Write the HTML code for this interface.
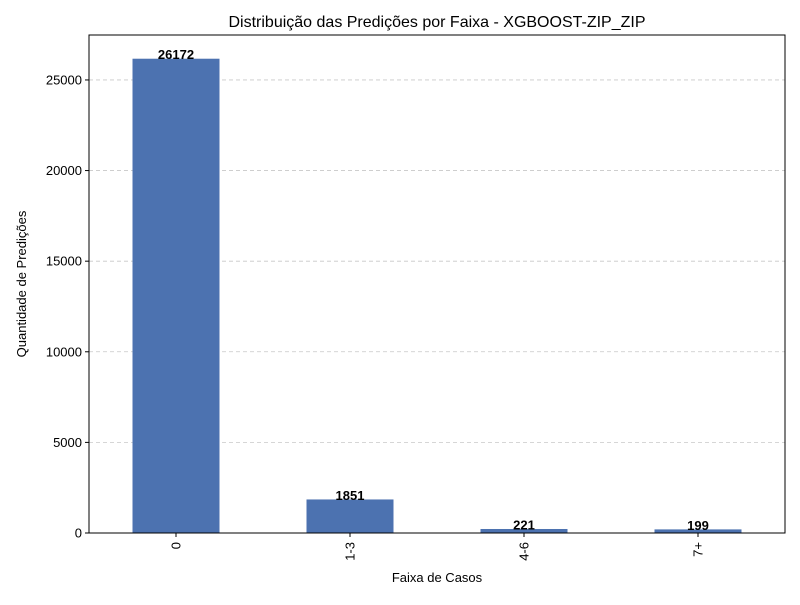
<!DOCTYPE html>
<html><head><meta charset="utf-8"><style>
body{margin:0;background:#fff;font-family:"Liberation Sans","DejaVu Sans",sans-serif}
</style></head><body>
<svg id="chart" width="800" height="600" xmlns="http://www.w3.org/2000/svg">
<rect width="800" height="600" fill="#fff"/>
<text x="437" y="27" font-size="16" text-anchor="middle">Distribuição das Predições por Faixa - XGBOOST-ZIP_ZIP</text>
<text x="437" y="582" font-size="13" text-anchor="middle">Faixa de Casos</text>
<text x="26" y="284" font-size="13" text-anchor="middle" transform="rotate(-90 26 284)">Quantidade de Predições</text>
<g id="grid"></g><g id="bars"></g><g id="axes"></g>
</svg>
<script>
const categories = ["0","1-3","4-6","7+"];
const values = [26172,1851,221,199];
const yTicks = [0,5000,10000,15000,20000,25000];
const L=89,R=785,T=35,B=533;
const yMax = Math.max(...values)*1.05;
const y = v => B-(v/yMax)*(B-T);
const step=(R-L)/categories.length;
const xc = i => L+step*(i+0.5);
const NS="http://www.w3.org/2000/svg";
function mk(tag,attrs,parent,txt){const e=document.createElementNS(NS,tag);for(const k in attrs)e.setAttribute(k,attrs[k]);if(txt!==undefined)e.textContent=txt;parent.appendChild(e);return e;}
const grid=document.getElementById('grid'),bars=document.getElementById('bars'),axes=document.getElementById('axes');
yTicks.forEach(t=>{
  const yy=y(t);
  const g=mk('line',{x1:L,x2:R,y1:yy,y2:yy,stroke:'#c8c8c8','stroke-dasharray':'4,3','stroke-width':0.8},grid);
  
  
  mk('line',{x1:L-4,x2:L,y1:yy,y2:yy,stroke:'#000'},axes);
  const tl=mk('text',{x:L-7,y:yy+4.5,'font-size':13,'text-anchor':'end'},axes,String(t));
  
  
});
categories.forEach((c,i)=>{
  const w=step*0.5,x0=xc(i)-w/2;
  const r=mk('rect',{x:x0,y:y(values[i]),width:w,height:B-y(values[i]),fill:'#4c72b0'},bars);
  
  
  const v=mk('text',{x:xc(i),y:y(values[i])+0.5,'font-size':13,'font-weight':'bold','text-anchor':'middle'},bars,String(values[i]));
  
  
  mk('line',{x1:xc(i),x2:xc(i),y1:B,y2:B+4,stroke:'#000'},axes);
  const tx=xc(i)+4.5,ty=B+9;
  const tl=mk('text',{x:tx,y:ty,'font-size':13,'text-anchor':'end',transform:`rotate(-90 ${tx} ${ty})`},axes,c);
  
  
});
const f=mk('rect',{x:L,y:T,width:R-L,height:B-T,fill:'none',stroke:'#000','stroke-width':1},axes);


</script>
</body></html>
